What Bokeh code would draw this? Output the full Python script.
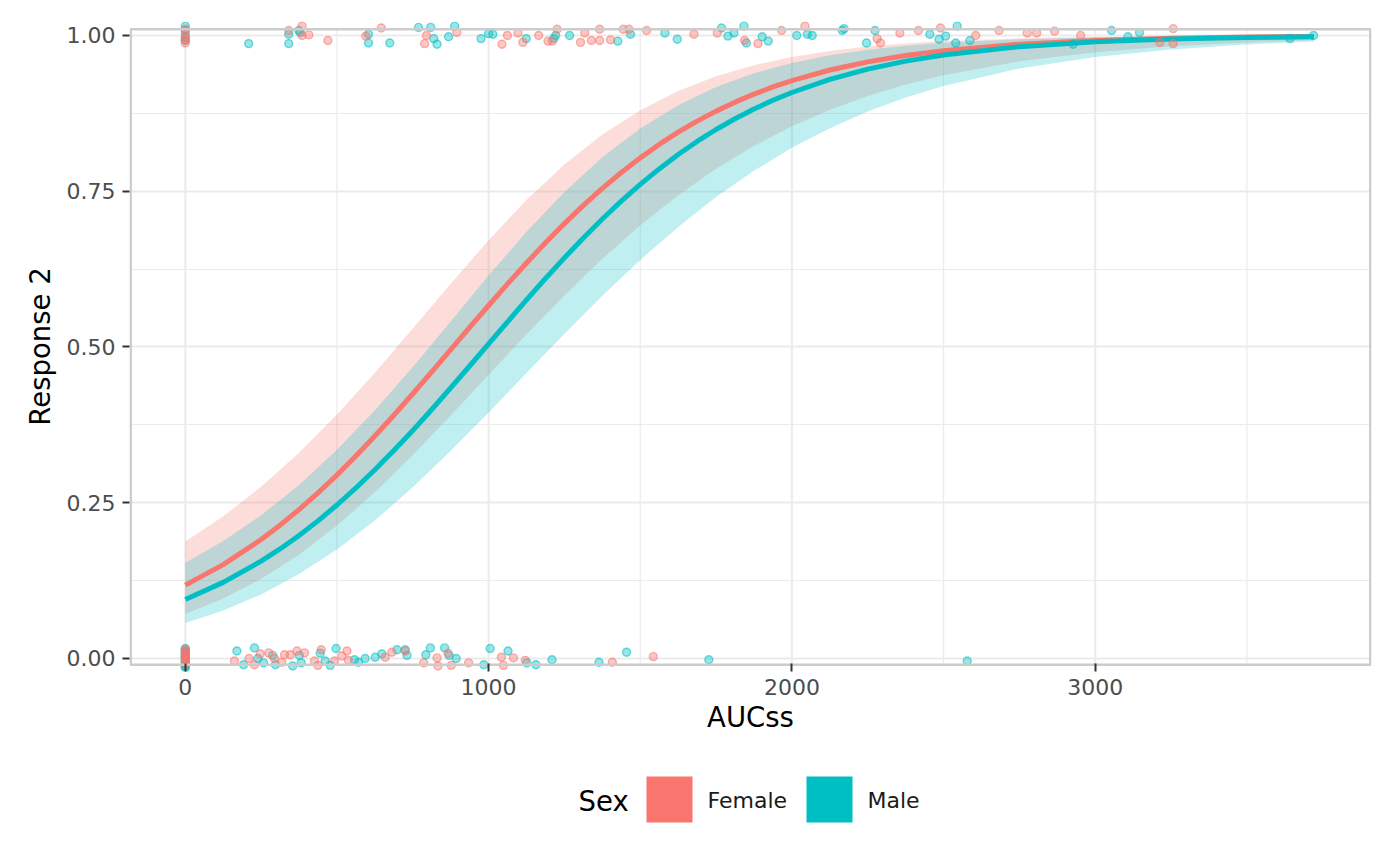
from bokeh.plotting import figure
from bokeh.models import Range1d, FixedTicker, PrintfTickFormatter
from bokeh.layouts import column
from bokeh.embed import file_html
from bokeh.resources import INLINE
from bokeh.core.properties import value

FONT = "DejaVu Sans"
FEMALE = "#F8766D"
MALE = "#00BFC4"

# ---------------- data ----------------
x_ticks = [0, 1000, 2000, 3000]
x_minor = [500, 1500, 2500, 3500]
y_ticks = [0, 0.25, 0.5, 0.75, 1.0]
y_minor = [0.125, 0.375, 0.625, 0.875]
sex_labels = ["Female", "Male"]

# fitted probability curves
line_x = [0, 125, 250, 312.5, 375, 437.5, 500, 562.5, 625, 687.5, 750, 812.5, 875,
          937.5, 1000, 1062.5, 1125, 1187.5, 1250, 1312.5, 1375, 1437.5, 1500, 1562.5,
          1625, 1687.5, 1750, 1812.5, 1875, 1937.5, 2000, 2125, 2250, 2375, 2500, 2750,
          3000, 3250, 3500, 3721]
female_fit = [0.1177, 0.1507, 0.1910, 0.2140, 0.2390, 0.2659, 0.2946, 0.3251, 0.3571,
              0.3905, 0.4250, 0.4601, 0.4957, 0.5313, 0.5666, 0.6012, 0.6349, 0.6673,
              0.6981, 0.7273, 0.7547, 0.7801, 0.8036, 0.8251, 0.8448, 0.8626, 0.8786,
              0.8930, 0.9059, 0.9174, 0.9276, 0.9446, 0.9577, 0.9679, 0.9757, 0.9861,
              0.9921, 0.9955, 0.9975, 0.9985]
male_fit = [0.0948, 0.1222, 0.1562, 0.1758, 0.1974, 0.2209, 0.2464, 0.2737, 0.3029,
            0.3338, 0.3661, 0.3997, 0.4343, 0.4695, 0.5050, 0.5405, 0.5755, 0.6099,
            0.6431, 0.6751, 0.7055, 0.7341, 0.7610, 0.7859, 0.8089, 0.8299, 0.8491,
            0.8664, 0.8820, 0.8960, 0.9085, 0.9296, 0.9461, 0.9589, 0.9687, 0.9821,
            0.9898, 0.9942, 0.9967, 0.9980]

# confidence bands
band_x = [0, 125, 250, 375, 500, 625, 750, 875, 1000, 1125, 1250, 1375, 1500,
          1625, 1750, 1875, 2000, 2125, 2250, 2375, 2500, 2750, 3000, 3250, 3500, 3721]
female_upper = [0.1879, 0.2283, 0.2758, 0.3302, 0.3915, 0.4586, 0.5296, 0.6015, 0.6715,
                0.7360, 0.7929, 0.8410, 0.8801, 0.9109, 0.9345, 0.9523, 0.9655, 0.9752,
                0.9822, 0.9873, 0.9910, 0.9954, 0.9977, 0.9988, 0.9994, 0.9997]
female_lower = [0.0715, 0.0962, 0.1277, 0.1667, 0.2133, 0.2670, 0.3266, 0.3902, 0.4554,
                0.5203, 0.5828, 0.6415, 0.6953, 0.7435, 0.7861, 0.8229, 0.8543, 0.8807,
                0.9029, 0.9212, 0.9362, 0.9585, 0.9732, 0.9828, 0.9889, 0.9925]
male_upper = [0.1537, 0.1884, 0.2299, 0.2786, 0.3349, 0.3986, 0.4680, 0.5410, 0.6147,
              0.6849, 0.7489, 0.8046, 0.8509, 0.8882, 0.9172, 0.9394, 0.9559, 0.9682,
              0.9772, 0.9836, 0.9883, 0.9941, 0.9970, 0.9985, 0.9992, 0.9996]
male_lower = [0.0570, 0.0771, 0.1029, 0.1355, 0.1751, 0.2217, 0.2749, 0.3333, 0.3948,
              0.4582, 0.5212, 0.5821, 0.6397, 0.6926, 0.7406, 0.7829, 0.8198, 0.8513,
              0.8780, 0.9005, 0.9190, 0.9470, 0.9655, 0.9777, 0.9857, 0.9903]

# jittered observations (AUCss, response)
female_auc = [0, 0, 0, 0, 0,
              341, 385, 385, 407, 470, 595, 646, 795, 789, 895, 1044, 1062, 1097, 1113,
              1165, 1196, 1210, 1226, 1303, 1317, 1339, 1366, 1366, 1402, 1444, 1463,
              1521, 1677, 1754, 1844, 1888, 1966, 2043, 2281, 2292, 2356, 2417, 2490,
              2606, 2683, 2776, 2807, 2866, 2952, 3213, 3257, 3257,
              0, 0, 0, 0, 0, 0, 0, 0, 0, 0,
              162, 210, 228, 247, 275, 294, 318, 327, 346, 368, 393, 426, 437, 448, 492,
              516, 533, 538, 659, 681, 725, 786, 830, 833, 866, 877, 934, 1042, 1049,
              1082, 1121, 1408, 1543]
female_resp = [1.010, 1.003, 0.995, 0.988, 0.993,
               1.008, 1.015, 1.000, 1.001, 0.992, 0.999, 1.012, 1.000, 0.987, 1.005,
               0.986, 1.000, 1.004, 0.989, 1.000, 0.991, 0.991, 1.010, 0.989, 1.004,
               0.992, 1.010, 0.992, 0.993, 1.010, 1.010, 1.008, 1.002, 1.004, 0.992,
               0.987, 1.008, 1.015, 0.995, 0.988, 1.004, 1.008, 1.012, 1.000, 1.008,
               1.004, 1.004, 1.007, 1.000, 0.989, 1.011, 0.987,
               0.012, 0.007, 0.003, -0.002, -0.006, -0.010, 0.015, 0.001, 0.009, -0.004,
               -0.004, 0.000, -0.010, 0.0075, 0.009, 0.000, -0.006, 0.006, 0.006, 0.012,
               0.009, -0.004, -0.011, 0.014, -0.004, 0.004, 0.012, -0.003, 0.002, 0.010,
               0.012, -0.007, 0.001, -0.012, 0.0085, -0.011, -0.007, 0.002, -0.011,
               0.001, -0.003, -0.006, 0.003]
male_auc = [0, 0, 0, 0,
            209, 341, 341, 374, 379, 604, 604, 674, 769, 809, 819, 830, 868, 888, 975,
            1000, 1014, 1124, 1215, 1221, 1267, 1426, 1468, 1581, 1622, 1768, 1789, 1809,
            1842, 1850, 1902, 1922, 2016, 2051, 2067, 2166, 2172, 2246, 2274, 2455, 2485,
            2507, 2540, 2545, 2587, 2927, 3054, 3108, 3146, 3642, 3720,
            0, 0, 0, 0, 0, 0, 0, 0, 0, 0, 0, 0,
            170, 192, 228, 239, 258, 288, 297, 354, 376, 382, 445, 461, 478, 497, 558,
            571, 593, 626, 648, 698, 725, 731, 793, 808, 855, 870, 893, 984, 1005, 1064,
            1126, 1156, 1209, 1364, 1455, 1726, 2578]
male_resp = [1.015, 1.008, 0.998, 0.992,
             0.987, 0.987, 1.002, 1.008, 1.005, 1.002, 0.988, 0.988, 1.013, 1.013, 0.995,
             0.986, 0.998, 1.015, 0.995, 1.003, 1.002, 0.995, 0.995, 1.000, 1.000, 0.991,
             1.002, 1.004, 0.994, 1.012, 0.999, 1.004, 1.015, 0.988, 0.998, 0.991, 1.000,
             1.002, 1.000, 1.008, 1.011, 0.988, 1.008, 1.002, 0.994, 0.999, 0.988, 1.015,
             0.992, 0.986, 1.008, 0.998, 1.005, 0.995, 1.000,
             0.016, 0.010, 0.005, 0.000, -0.004, -0.008, -0.013, -0.015, 0.013, 0.008,
             -0.011, 0.003,
             0.012, -0.010, 0.017, 0.000, -0.007, 0.005, -0.010, -0.012, 0.005, -0.007,
             0.0085, -0.004, -0.011, 0.016, -0.002, -0.006, 0.000, 0.002, 0.0075, 0.014,
             0.014, 0.005, 0.006, 0.017, 0.017, 0.005, 0.000, -0.010, 0.016, 0.012,
             -0.007, -0.010, -0.002, -0.006, 0.010, -0.002, -0.004]

# ---------------- main panel ----------------
X0, X1 = -184, 3911
PANEL_LO, PANEL_HI = -0.01, 1.01
LEFT, RIGHT = 129, 29

p = figure(width=1400, height=750,
           x_range=Range1d(X0, X1), y_range=Range1d(-0.02087, 1.02247),
           output_backend="svg", toolbar_location=None,
           min_border_left=LEFT, min_border_right=RIGHT,
           min_border_top=21, min_border_bottom=79,
           x_axis_label="AUCss", y_axis_label="Response 2")
p.outline_line_color = None
p.background_fill_color = "white"
p.border_fill_color = "white"

# grid
p.xgrid.grid_line_color = None
p.yaxis.ticker = FixedTicker(ticks=y_ticks, minor_ticks=y_minor)
p.xaxis.ticker = FixedTicker(ticks=x_ticks, minor_ticks=x_minor)
p.ygrid.grid_line_color = "#EBEBEB"
p.ygrid.grid_line_width = 2
p.ygrid.minor_grid_line_color = "#EBEBEB"
p.ygrid.minor_grid_line_width = 1.2
p.segment(x0=x_minor, x1=x_minor, y0=[PANEL_LO] * len(x_minor), y1=[PANEL_HI] * len(x_minor),
          line_color="#EBEBEB", line_width=1.2)
p.segment(x0=x_ticks, x1=x_ticks, y0=[PANEL_LO] * len(x_ticks), y1=[PANEL_HI] * len(x_ticks),
          line_color="#EBEBEB", line_width=2)

# ribbons
p.varea(x=band_x, y1=female_lower, y2=female_upper, fill_color=FEMALE, fill_alpha=0.25)
p.varea(x=band_x, y1=male_lower, y2=male_upper, fill_color=MALE, fill_alpha=0.25)
# fitted curves
p.line(line_x, female_fit, line_color=FEMALE, line_width=5, line_join="round")
p.line(line_x, male_fit, line_color=MALE, line_width=5, line_join="round")
# observations
p.scatter(male_auc, male_resp, size=8, fill_color=MALE, fill_alpha=0.4,
          line_color=MALE, line_alpha=0.55, line_width=1.4)
p.scatter(female_auc, female_resp, size=8, fill_color=FEMALE, fill_alpha=0.4,
          line_color=FEMALE, line_alpha=0.55, line_width=1.4)

# panel border
p.quad(left=[X0 + 4], right=[X1 - 4], bottom=[PANEL_LO], top=[PANEL_HI],
       fill_color=None, line_color="#CCCCCC", line_width=2.5)

p.yaxis.formatter = PrintfTickFormatter(format="%.2f")
for ax in (p.xaxis[0], p.yaxis[0]):
    ax.axis_line_color = None
    ax.major_tick_line_color = "#333333"
    ax.major_tick_line_width = 2
    ax.minor_tick_line_color = None
    ax.major_label_text_font = FONT
    ax.major_label_text_font_size = "22px"
    ax.major_label_text_color = "#4D4D4D"
    ax.axis_label_text_font = FONT
    ax.axis_label_text_font_size = "27.5px"
    ax.axis_label_text_font_style = "normal"
    ax.axis_label_text_color = "#000000"
p.xaxis.major_tick_in = 8
p.xaxis.major_tick_out = 0
p.xaxis.major_label_standoff = 3
p.xaxis.axis_label_standoff = 3
p.yaxis.major_tick_in = 0
p.yaxis.major_tick_out = 7
p.yaxis.major_label_standoff = 7
p.yaxis.axis_label_standoff = 8

# ---------------- legend strip (page pixel coordinates) ----------------
leg = figure(width=1400, height=116, x_range=Range1d(LEFT, 1400 - RIGHT),
             y_range=Range1d(866, 750),
             output_backend="svg", toolbar_location=None,
             min_border_left=LEFT, min_border_right=RIGHT,
             min_border_top=0, min_border_bottom=0,
             x_axis_type=None, y_axis_type=None)
leg.grid.visible = False
leg.outline_line_color = None
leg.background_fill_color = "white"
leg.border_fill_color = "white"
leg.quad(left=[646, 806], right=[692, 852], top=[776, 776], bottom=[822, 822],
         fill_color=[FEMALE, MALE], line_color=None)
leg.text(x=[707, 867], y=[800, 800], text=sex_labels, text_font=value(FONT),
         text_font_size="22px", text_baseline="middle", text_align="left",
         text_color="#1A1A1A")
leg.text(x=[578], y=[800], text=["Sex"], text_font=value(FONT),
         text_font_size="27.5px", text_baseline="middle", text_align="left",
         text_color="#000000")

layout = column(p, leg, spacing=0)
open("out.html", "w").write(file_html(layout, INLINE))
